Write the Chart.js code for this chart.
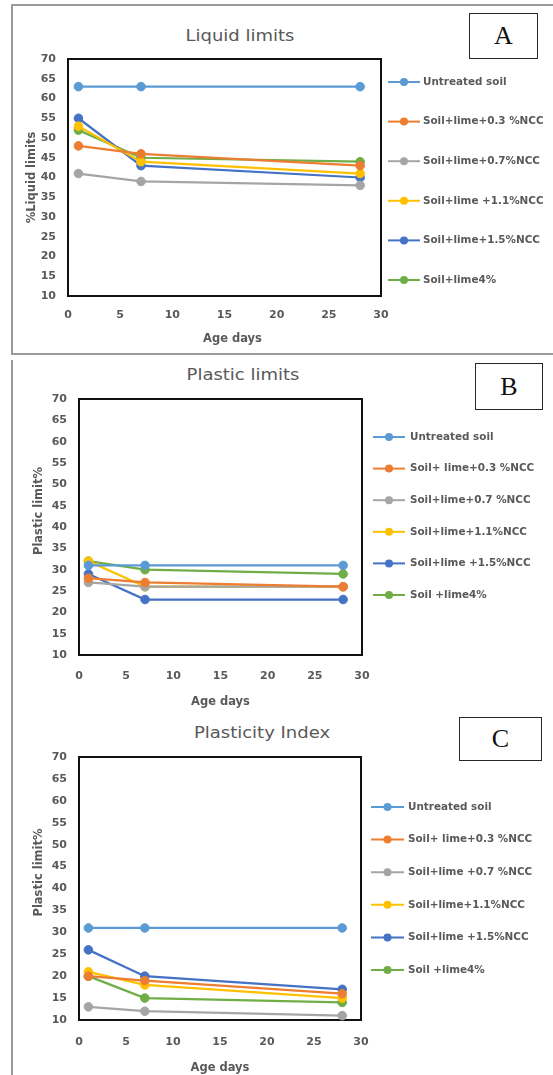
<!DOCTYPE html>
<html>
<head>
<meta charset="utf-8">
<script src="https://cdn.jsdelivr.net/npm/chart.js@4.4.1/dist/chart.umd.min.js"></script>
<style>
  body { margin: 0; background: #fff; width: 553px; height: 1075px; position: relative; overflow: hidden; font-family: "DejaVu Sans", sans-serif; }
  canvas { position: absolute; left: 0; }
  .frame { position: absolute; box-sizing: border-box; border: 2px solid #9a9a9a; }
  .title { position: absolute; color: #595959; font-size: 15px; line-height: 18px; white-space: nowrap; transform: translateX(-50%) scaleX(1.2); }
  .tag { position: absolute; box-sizing: border-box; border: 1.5px solid #262626; font-family: "Liberation Serif", serif; font-size: 26px; color: #111; display: flex; align-items: center; justify-content: center; }
</style>
</head>
<body>
<div class="frame" style="left:11px;top:4px;width:600px;height:351px;"></div>
<div class="frame" style="left:11px;top:360px;width:600px;height:800px;border-top:none;"></div>

<div class="title" style="left:240px;top:27px;">Liquid limits</div>
<div class="title" style="left:243px;top:366px;">Plastic limits</div>
<div class="title" style="left:262px;top:724px;">Plasticity Index</div>

<div class="tag" style="left:469px;top:13px;width:69px;height:46px;">A</div>
<div class="tag" style="left:475px;top:363px;width:68px;height:47px;">B</div>
<div class="tag" style="left:459px;top:717px;width:83px;height:44px;">C</div>

<canvas id="chartA" width="553" height="353" style="top:0px;"></canvas>
<canvas id="chartB" width="553" height="355" style="top:354px;"></canvas>
<canvas id="chartC" width="553" height="365" style="top:710px;"></canvas>

<script>
// curing age, days
const days = [1, 7, 28];
const xTicks = [0, 5, 10, 15, 20, 25, 30];
const yTicks = [10, 15, 20, 25, 30, 35, 40, 45, 50, 55, 60, 65, 70];

const seriesColors = ['#5B9BD5', '#ED7D31', '#A5A5A5', '#FFC000', '#4472C4', '#70AD47'];

const namesA = ['Untreated soil', 'Soil+lime+0.3 %NCC', 'Soil+lime+0.7%NCC', 'Soil+lime +1.1%NCC', 'Soil+lime+1.5%NCC', 'Soil+lime4%'];
const namesB = ['Untreated soil', 'Soil+ lime+0.3 %NCC', 'Soil+lime+0.7 %NCC', 'Soil+lime+1.1%NCC', 'Soil+lime +1.5%NCC', 'Soil +lime4%'];
const namesC = ['Untreated soil', 'Soil+ lime+0.3 %NCC', 'Soil+lime +0.7 %NCC', 'Soil+lime+1.1%NCC', 'Soil+lime +1.5%NCC', 'Soil +lime4%'];

// one row per series, values at days 1, 7, 28
const liquidLimits = [
  [63, 63, 63],
  [48, 46, 43],
  [41, 39, 38],
  [53, 44, 41],
  [55, 43, 40],
  [52, 45, 44]
];
const plasticLimits = [
  [31, 31, 31],
  [28, 27, 26],
  [27, 26, 26],
  [32, 26, 26],
  [29, 23, 23],
  [32, 30, 29]
];
const plasticityIndex = [
  [31, 31, 31],
  [20, 19, 16],
  [13, 12, 11],
  [21, 18, 15],
  [26, 20, 17],
  [20, 15, 14]
];

const grey = '#595959';
const tickFont = { family: 'DejaVu Sans', size: 11, weight: 'bold' };
const axisFont = { family: 'DejaVu Sans', size: 11.5, weight: 'bold' };

// black frame round the plot area
const plotFrame = {
  id: 'plotFrame',
  beforeDatasetsDraw(chart) {
    const { ctx, chartArea: a } = chart;
    ctx.save();
    ctx.strokeStyle = '#111';
    ctx.lineWidth = 2;
    ctx.strokeRect(a.left, a.top, a.right - a.left, a.bottom - a.top);
    ctx.restore();
  }
};

// excel style legend: line with a marker, then the name
const sideLegend = {
  id: 'sideLegend',
  afterDraw(chart, args, opts) {
    const ctx = chart.ctx;
    ctx.save();
    ctx.font = 'bold 10.4px "DejaVu Sans"';
    ctx.textBaseline = 'middle';
    chart.data.datasets.forEach((ds, i) => {
      const y = opts.y0 + i * opts.dy;
      ctx.strokeStyle = ds.borderColor;
      ctx.lineWidth = 2;
      ctx.beginPath();
      ctx.moveTo(opts.x0, y);
      ctx.lineTo(opts.x1, y);
      ctx.stroke();
      ctx.fillStyle = ds.backgroundColor;
      ctx.beginPath();
      ctx.arc((opts.x0 + opts.x1) / 2, y, 4, 0, Math.PI * 2);
      ctx.fill();
      ctx.fillStyle = grey;
      ctx.fillText(ds.label, opts.tx, y);
    });
    ctx.restore();
  }
};

function makeChart(id, names, values, yTitle, xTitle, L) {
  const datasets = names.map((name, i) => ({
    label: name,
    data: days.map((d, j) => ({ x: d, y: values[i][j] })),
    borderColor: seriesColors[i],
    backgroundColor: seriesColors[i],
    borderWidth: 2.25,
    pointRadius: 4.3,
    pointHoverRadius: 4.3,
    pointBorderWidth: 1,
    tension: 0,
    clip: false
  }));

  return new Chart(document.getElementById(id), {
    type: 'line',
    data: { datasets },
    plugins: [plotFrame, sideLegend],
    options: {
      responsive: false,
      devicePixelRatio: 1,
      animation: false,
      layout: { padding: { left: 0, top: L.top, right: L.right, bottom: 0 } },
      plugins: {
        legend: { display: false },
        tooltip: { enabled: false },
        sideLegend: L.legend
      },
      scales: {
        x: {
          type: 'linear',
          min: xTicks[0],
          max: xTicks[xTicks.length - 1],
          grid: { display: false, drawTicks: false },
          border: { display: false },
          ticks: { stepSize: xTicks[1] - xTicks[0], color: grey, font: tickFont, padding: L.xPad, maxRotation: 0, autoSkip: false },
          title: { display: true, text: xTitle, color: grey, font: axisFont, padding: { top: 0, bottom: L.xTitlePad } },
          afterFit: s => { s.height = L.xH; }
        },
        y: {
          min: yTicks[0],
          max: yTicks[yTicks.length - 1],
          grid: { display: false, drawTicks: false },
          border: { display: false },
          ticks: { stepSize: yTicks[1] - yTicks[0], color: grey, font: tickFont, padding: 12, autoSkip: false },
          title: { display: true, text: yTitle, color: grey, font: axisFont, padding: { top: L.yTitlePad, bottom: 0 } },
          afterFit: s => { s.width = L.yW; }
        }
      }
    }
  });
}

makeChart('chartA', namesA, liquidLimits, '%Liquid limits', '    Age days', {
  top: 59, right: 172, yW: 68, xH: 57, xPad: 13, xTitlePad: 7, yTitlePad: 25,
  legend: { x0: 388, x1: 420, tx: 423, y0: 82, dy: 39.6 }
});

makeChart('chartB', namesB, plasticLimits, '        Plastic limit%', 'Age days', {
  top: 45, right: 191, yW: 79, xH: 54, xPad: 15, xTitlePad: 0, yTitlePad: 32,
  legend: { x0: 373, x1: 405, tx: 410, y0: 83, dy: 31.6 }
});

makeChart('chartC', namesC, plasticityIndex, '        Plastic limit%', 'Age days', {
  top: 47, right: 192, yW: 79, xH: 55, xPad: 16, xTitlePad: 0, yTitlePad: 32,
  legend: { x0: 371, x1: 404, tx: 408, y0: 97, dy: 32.6 }
});
</script>
</body>
</html>
